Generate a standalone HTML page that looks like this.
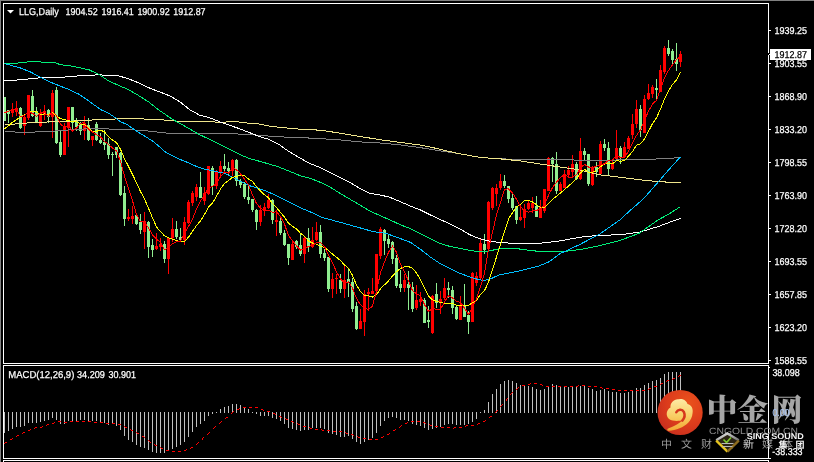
<!DOCTYPE html><html><head><meta charset="utf-8"><style>html,body{margin:0;padding:0;background:#000;}body{width:814px;height:462px;overflow:hidden;position:relative}svg{position:absolute;left:0;top:0;display:block}</style></head><body>
<svg width="814" height="462" viewBox="0 0 814 462" font-family="Liberation Sans, Arial, sans-serif" text-rendering="geometricPrecision">
<rect x="0" y="0" width="814" height="462" fill="#000"/>
<g shape-rendering="crispEdges">
<rect x="0" y="0" width="814" height="1" fill="#808080"/>
<rect x="0" y="0" width="1" height="462" fill="#808080"/>
</g>
<g shape-rendering="crispEdges">
<rect x="4" y="97" width="1" height="24" fill="#90EE90"/>
<rect x="3" y="97" width="3" height="24" fill="#90EE90"/>
<rect x="8" y="110" width="1" height="13" fill="#90EE90"/>
<rect x="7" y="110" width="3" height="4" fill="#90EE90"/>
<rect x="12" y="103" width="1" height="14" fill="#FF0000"/>
<rect x="11" y="109" width="3" height="4" fill="#FF0000"/>
<rect x="16" y="101" width="1" height="15" fill="#FF0000"/>
<rect x="15" y="108" width="3" height="4" fill="#FF0000"/>
<rect x="20" y="107" width="1" height="22" fill="#90EE90"/>
<rect x="19" y="108" width="3" height="20" fill="#90EE90"/>
<rect x="24" y="115" width="1" height="20" fill="#FF0000"/>
<rect x="23" y="117" width="3" height="9" fill="#FF0000"/>
<rect x="28" y="95" width="1" height="25" fill="#FF0000"/>
<rect x="27" y="95" width="3" height="23" fill="#FF0000"/>
<rect x="32" y="90" width="1" height="27" fill="#90EE90"/>
<rect x="31" y="96" width="3" height="20" fill="#90EE90"/>
<rect x="36" y="107" width="1" height="16" fill="#90EE90"/>
<rect x="35" y="111" width="3" height="12" fill="#90EE90"/>
<rect x="40" y="109" width="1" height="18" fill="#FF0000"/>
<rect x="39" y="113" width="3" height="13" fill="#FF0000"/>
<rect x="44" y="105" width="1" height="15" fill="#FF0000"/>
<rect x="43" y="111" width="3" height="4" fill="#FF0000"/>
<rect x="48" y="109" width="1" height="14" fill="#90EE90"/>
<rect x="47" y="110" width="3" height="7" fill="#90EE90"/>
<rect x="52" y="90" width="1" height="48" fill="#FF0000"/>
<rect x="51" y="93" width="3" height="24" fill="#FF0000"/>
<rect x="56" y="87" width="1" height="57" fill="#90EE90"/>
<rect x="55" y="90" width="3" height="53" fill="#90EE90"/>
<rect x="60" y="131" width="1" height="26" fill="#90EE90"/>
<rect x="59" y="142" width="3" height="13" fill="#90EE90"/>
<rect x="64" y="123" width="1" height="32" fill="#FF0000"/>
<rect x="63" y="126" width="3" height="29" fill="#FF0000"/>
<rect x="68" y="107" width="1" height="40" fill="#FF0000"/>
<rect x="67" y="107" width="3" height="21" fill="#FF0000"/>
<rect x="72" y="107" width="1" height="24" fill="#90EE90"/>
<rect x="71" y="107" width="3" height="16" fill="#90EE90"/>
<rect x="76" y="118" width="1" height="13" fill="#90EE90"/>
<rect x="75" y="120" width="3" height="7" fill="#90EE90"/>
<rect x="80" y="122" width="1" height="13" fill="#90EE90"/>
<rect x="79" y="125" width="3" height="6" fill="#90EE90"/>
<rect x="84" y="116" width="1" height="24" fill="#FF0000"/>
<rect x="83" y="123" width="3" height="8" fill="#FF0000"/>
<rect x="88" y="118" width="1" height="23" fill="#90EE90"/>
<rect x="87" y="125" width="3" height="15" fill="#90EE90"/>
<rect x="92" y="136" width="1" height="10" fill="#FF0000"/>
<rect x="91" y="136" width="3" height="4" fill="#FF0000"/>
<rect x="96" y="122" width="1" height="19" fill="#90EE90"/>
<rect x="95" y="124" width="3" height="16" fill="#90EE90"/>
<rect x="100" y="133" width="1" height="11" fill="#90EE90"/>
<rect x="99" y="140" width="3" height="3" fill="#90EE90"/>
<rect x="104" y="130" width="1" height="20" fill="#90EE90"/>
<rect x="103" y="142" width="3" height="3" fill="#90EE90"/>
<rect x="108" y="138" width="1" height="21" fill="#90EE90"/>
<rect x="107" y="144" width="3" height="11" fill="#90EE90"/>
<rect x="112" y="152" width="1" height="24" fill="#90EE90"/>
<rect x="111" y="154" width="3" height="1" fill="#90EE90"/>
<rect x="116" y="147" width="1" height="11" fill="#90EE90"/>
<rect x="115" y="147" width="3" height="8" fill="#90EE90"/>
<rect x="120" y="152" width="1" height="44" fill="#90EE90"/>
<rect x="119" y="153" width="3" height="42" fill="#90EE90"/>
<rect x="124" y="186" width="1" height="40" fill="#90EE90"/>
<rect x="123" y="193" width="3" height="26" fill="#90EE90"/>
<rect x="128" y="209" width="1" height="12" fill="#FF0000"/>
<rect x="127" y="217" width="3" height="2" fill="#FF0000"/>
<rect x="132" y="206" width="1" height="18" fill="#FF0000"/>
<rect x="131" y="216" width="3" height="3" fill="#FF0000"/>
<rect x="136" y="215" width="1" height="10" fill="#90EE90"/>
<rect x="135" y="215" width="3" height="9" fill="#90EE90"/>
<rect x="140" y="214" width="1" height="20" fill="#90EE90"/>
<rect x="139" y="222" width="3" height="8" fill="#90EE90"/>
<rect x="144" y="212" width="1" height="37" fill="#FF0000"/>
<rect x="143" y="221" width="3" height="11" fill="#FF0000"/>
<rect x="148" y="221" width="1" height="37" fill="#90EE90"/>
<rect x="147" y="222" width="3" height="25" fill="#90EE90"/>
<rect x="152" y="239" width="1" height="18" fill="#90EE90"/>
<rect x="151" y="245" width="3" height="5" fill="#90EE90"/>
<rect x="156" y="233" width="1" height="17" fill="#FF0000"/>
<rect x="155" y="246" width="3" height="3" fill="#FF0000"/>
<rect x="160" y="238" width="1" height="13" fill="#FF0000"/>
<rect x="159" y="244" width="3" height="3" fill="#FF0000"/>
<rect x="164" y="241" width="1" height="22" fill="#90EE90"/>
<rect x="163" y="244" width="3" height="15" fill="#90EE90"/>
<rect x="168" y="237" width="1" height="37" fill="#FF0000"/>
<rect x="167" y="238" width="3" height="21" fill="#FF0000"/>
<rect x="172" y="218" width="1" height="24" fill="#FF0000"/>
<rect x="171" y="229" width="3" height="9" fill="#FF0000"/>
<rect x="176" y="221" width="1" height="18" fill="#90EE90"/>
<rect x="175" y="229" width="3" height="8" fill="#90EE90"/>
<rect x="180" y="228" width="1" height="14" fill="#90EE90"/>
<rect x="179" y="237" width="3" height="3" fill="#90EE90"/>
<rect x="184" y="217" width="1" height="28" fill="#FF0000"/>
<rect x="183" y="222" width="3" height="18" fill="#FF0000"/>
<rect x="188" y="200" width="1" height="24" fill="#FF0000"/>
<rect x="187" y="202" width="3" height="21" fill="#FF0000"/>
<rect x="192" y="191" width="1" height="15" fill="#FF0000"/>
<rect x="191" y="193" width="3" height="10" fill="#FF0000"/>
<rect x="196" y="184" width="1" height="17" fill="#FF0000"/>
<rect x="195" y="187" width="3" height="10" fill="#FF0000"/>
<rect x="200" y="172" width="1" height="26" fill="#90EE90"/>
<rect x="199" y="187" width="3" height="11" fill="#90EE90"/>
<rect x="204" y="187" width="1" height="18" fill="#FF0000"/>
<rect x="203" y="193" width="3" height="8" fill="#FF0000"/>
<rect x="208" y="166" width="1" height="29" fill="#FF0000"/>
<rect x="207" y="166" width="3" height="28" fill="#FF0000"/>
<rect x="212" y="166" width="1" height="29" fill="#90EE90"/>
<rect x="211" y="168" width="3" height="18" fill="#90EE90"/>
<rect x="216" y="170" width="1" height="19" fill="#FF0000"/>
<rect x="215" y="171" width="3" height="15" fill="#FF0000"/>
<rect x="220" y="161" width="1" height="16" fill="#FF0000"/>
<rect x="219" y="166" width="3" height="7" fill="#FF0000"/>
<rect x="224" y="154" width="1" height="17" fill="#90EE90"/>
<rect x="223" y="166" width="3" height="3" fill="#90EE90"/>
<rect x="228" y="162" width="1" height="14" fill="#90EE90"/>
<rect x="227" y="168" width="3" height="3" fill="#90EE90"/>
<rect x="232" y="159" width="1" height="17" fill="#FF0000"/>
<rect x="231" y="160" width="3" height="11" fill="#FF0000"/>
<rect x="236" y="159" width="1" height="27" fill="#90EE90"/>
<rect x="235" y="160" width="3" height="21" fill="#90EE90"/>
<rect x="240" y="179" width="1" height="9" fill="#90EE90"/>
<rect x="239" y="181" width="3" height="4" fill="#90EE90"/>
<rect x="244" y="182" width="1" height="17" fill="#90EE90"/>
<rect x="243" y="184" width="3" height="13" fill="#90EE90"/>
<rect x="248" y="185" width="1" height="19" fill="#90EE90"/>
<rect x="247" y="197" width="3" height="3" fill="#90EE90"/>
<rect x="252" y="199" width="1" height="13" fill="#90EE90"/>
<rect x="251" y="199" width="3" height="11" fill="#90EE90"/>
<rect x="256" y="209" width="1" height="21" fill="#90EE90"/>
<rect x="255" y="210" width="3" height="12" fill="#90EE90"/>
<rect x="260" y="205" width="1" height="21" fill="#FF0000"/>
<rect x="259" y="210" width="3" height="12" fill="#FF0000"/>
<rect x="264" y="203" width="1" height="13" fill="#FF0000"/>
<rect x="263" y="207" width="3" height="4" fill="#FF0000"/>
<rect x="268" y="194" width="1" height="15" fill="#FF0000"/>
<rect x="267" y="200" width="3" height="8" fill="#FF0000"/>
<rect x="272" y="199" width="1" height="25" fill="#90EE90"/>
<rect x="271" y="200" width="3" height="20" fill="#90EE90"/>
<rect x="276" y="210" width="1" height="26" fill="#FF0000"/>
<rect x="275" y="220" width="3" height="2" fill="#FF0000"/>
<rect x="280" y="217" width="1" height="18" fill="#90EE90"/>
<rect x="279" y="221" width="3" height="12" fill="#90EE90"/>
<rect x="284" y="230" width="1" height="16" fill="#90EE90"/>
<rect x="283" y="233" width="3" height="12" fill="#90EE90"/>
<rect x="288" y="244" width="1" height="21" fill="#90EE90"/>
<rect x="287" y="244" width="3" height="14" fill="#90EE90"/>
<rect x="292" y="240" width="1" height="20" fill="#FF0000"/>
<rect x="291" y="244" width="3" height="16" fill="#FF0000"/>
<rect x="296" y="240" width="1" height="9" fill="#90EE90"/>
<rect x="295" y="241" width="3" height="6" fill="#90EE90"/>
<rect x="300" y="234" width="1" height="22" fill="#90EE90"/>
<rect x="299" y="245" width="3" height="9" fill="#90EE90"/>
<rect x="304" y="237" width="1" height="26" fill="#FF0000"/>
<rect x="303" y="238" width="3" height="16" fill="#FF0000"/>
<rect x="308" y="228" width="1" height="24" fill="#90EE90"/>
<rect x="307" y="238" width="3" height="9" fill="#90EE90"/>
<rect x="312" y="227" width="1" height="21" fill="#FF0000"/>
<rect x="311" y="240" width="3" height="7" fill="#FF0000"/>
<rect x="316" y="222" width="1" height="19" fill="#FF0000"/>
<rect x="315" y="232" width="3" height="8" fill="#FF0000"/>
<rect x="320" y="225" width="1" height="33" fill="#90EE90"/>
<rect x="319" y="232" width="3" height="22" fill="#90EE90"/>
<rect x="324" y="249" width="1" height="12" fill="#90EE90"/>
<rect x="323" y="253" width="3" height="5" fill="#90EE90"/>
<rect x="328" y="257" width="1" height="35" fill="#90EE90"/>
<rect x="327" y="257" width="3" height="32" fill="#90EE90"/>
<rect x="332" y="273" width="1" height="25" fill="#FF0000"/>
<rect x="331" y="279" width="3" height="10" fill="#FF0000"/>
<rect x="336" y="274" width="1" height="20" fill="#FF0000"/>
<rect x="335" y="278" width="3" height="1" fill="#FF0000"/>
<rect x="340" y="274" width="1" height="19" fill="#90EE90"/>
<rect x="339" y="280" width="3" height="9" fill="#90EE90"/>
<rect x="344" y="266" width="1" height="32" fill="#FF0000"/>
<rect x="343" y="280" width="3" height="9" fill="#FF0000"/>
<rect x="348" y="269" width="1" height="28" fill="#90EE90"/>
<rect x="347" y="279" width="3" height="3" fill="#90EE90"/>
<rect x="352" y="278" width="1" height="34" fill="#90EE90"/>
<rect x="351" y="282" width="3" height="27" fill="#90EE90"/>
<rect x="356" y="302" width="1" height="28" fill="#90EE90"/>
<rect x="355" y="306" width="3" height="23" fill="#90EE90"/>
<rect x="360" y="309" width="1" height="20" fill="#FF0000"/>
<rect x="359" y="321" width="3" height="8" fill="#FF0000"/>
<rect x="364" y="290" width="1" height="46" fill="#FF0000"/>
<rect x="363" y="294" width="3" height="28" fill="#FF0000"/>
<rect x="368" y="288" width="1" height="23" fill="#FF0000"/>
<rect x="367" y="292" width="3" height="2" fill="#FF0000"/>
<rect x="372" y="278" width="1" height="16" fill="#FF0000"/>
<rect x="371" y="291" width="3" height="3" fill="#FF0000"/>
<rect x="376" y="254" width="1" height="41" fill="#FF0000"/>
<rect x="375" y="254" width="3" height="37" fill="#FF0000"/>
<rect x="380" y="227" width="1" height="32" fill="#FF0000"/>
<rect x="379" y="229" width="3" height="27" fill="#FF0000"/>
<rect x="384" y="229" width="1" height="26" fill="#90EE90"/>
<rect x="383" y="230" width="3" height="11" fill="#90EE90"/>
<rect x="388" y="235" width="1" height="13" fill="#90EE90"/>
<rect x="387" y="239" width="3" height="5" fill="#90EE90"/>
<rect x="392" y="241" width="1" height="23" fill="#90EE90"/>
<rect x="391" y="242" width="3" height="17" fill="#90EE90"/>
<rect x="396" y="255" width="1" height="33" fill="#90EE90"/>
<rect x="395" y="258" width="3" height="28" fill="#90EE90"/>
<rect x="400" y="270" width="1" height="22" fill="#90EE90"/>
<rect x="399" y="284" width="3" height="4" fill="#90EE90"/>
<rect x="404" y="274" width="1" height="18" fill="#FF0000"/>
<rect x="403" y="280" width="3" height="8" fill="#FF0000"/>
<rect x="408" y="271" width="1" height="39" fill="#90EE90"/>
<rect x="407" y="284" width="3" height="4" fill="#90EE90"/>
<rect x="412" y="282" width="1" height="30" fill="#90EE90"/>
<rect x="411" y="287" width="3" height="22" fill="#90EE90"/>
<rect x="416" y="285" width="1" height="25" fill="#FF0000"/>
<rect x="415" y="300" width="3" height="8" fill="#FF0000"/>
<rect x="420" y="292" width="1" height="14" fill="#FF0000"/>
<rect x="419" y="299" width="3" height="3" fill="#FF0000"/>
<rect x="424" y="298" width="1" height="25" fill="#90EE90"/>
<rect x="423" y="300" width="3" height="23" fill="#90EE90"/>
<rect x="428" y="306" width="1" height="22" fill="#90EE90"/>
<rect x="427" y="320" width="3" height="2" fill="#90EE90"/>
<rect x="432" y="295" width="1" height="39" fill="#FF0000"/>
<rect x="431" y="296" width="3" height="37" fill="#FF0000"/>
<rect x="436" y="283" width="1" height="25" fill="#90EE90"/>
<rect x="435" y="294" width="3" height="9" fill="#90EE90"/>
<rect x="440" y="291" width="1" height="23" fill="#FF0000"/>
<rect x="439" y="299" width="3" height="4" fill="#FF0000"/>
<rect x="444" y="278" width="1" height="22" fill="#FF0000"/>
<rect x="443" y="288" width="3" height="10" fill="#FF0000"/>
<rect x="448" y="282" width="1" height="16" fill="#90EE90"/>
<rect x="447" y="288" width="3" height="2" fill="#90EE90"/>
<rect x="452" y="286" width="1" height="28" fill="#90EE90"/>
<rect x="451" y="290" width="3" height="18" fill="#90EE90"/>
<rect x="456" y="306" width="1" height="14" fill="#90EE90"/>
<rect x="455" y="307" width="3" height="12" fill="#90EE90"/>
<rect x="460" y="296" width="1" height="24" fill="#FF0000"/>
<rect x="459" y="305" width="3" height="15" fill="#FF0000"/>
<rect x="464" y="284" width="1" height="33" fill="#90EE90"/>
<rect x="463" y="305" width="3" height="12" fill="#90EE90"/>
<rect x="468" y="311" width="1" height="23" fill="#90EE90"/>
<rect x="467" y="315" width="3" height="7" fill="#90EE90"/>
<rect x="472" y="272" width="1" height="50" fill="#FF0000"/>
<rect x="471" y="273" width="3" height="49" fill="#FF0000"/>
<rect x="476" y="272" width="1" height="14" fill="#FF0000"/>
<rect x="475" y="276" width="3" height="7" fill="#FF0000"/>
<rect x="480" y="239" width="1" height="41" fill="#FF0000"/>
<rect x="479" y="243" width="3" height="35" fill="#FF0000"/>
<rect x="484" y="234" width="1" height="20" fill="#90EE90"/>
<rect x="483" y="244" width="3" height="6" fill="#90EE90"/>
<rect x="488" y="201" width="1" height="48" fill="#FF0000"/>
<rect x="487" y="202" width="3" height="47" fill="#FF0000"/>
<rect x="492" y="187" width="1" height="23" fill="#FF0000"/>
<rect x="491" y="188" width="3" height="20" fill="#FF0000"/>
<rect x="496" y="184" width="1" height="22" fill="#FF0000"/>
<rect x="495" y="188" width="3" height="6" fill="#FF0000"/>
<rect x="500" y="174" width="1" height="16" fill="#FF0000"/>
<rect x="499" y="181" width="3" height="7" fill="#FF0000"/>
<rect x="504" y="175" width="1" height="13" fill="#90EE90"/>
<rect x="503" y="181" width="3" height="5" fill="#90EE90"/>
<rect x="508" y="186" width="1" height="17" fill="#90EE90"/>
<rect x="507" y="186" width="3" height="13" fill="#90EE90"/>
<rect x="512" y="193" width="1" height="17" fill="#90EE90"/>
<rect x="511" y="198" width="3" height="10" fill="#90EE90"/>
<rect x="516" y="206" width="1" height="18" fill="#90EE90"/>
<rect x="515" y="206" width="3" height="14" fill="#90EE90"/>
<rect x="520" y="204" width="1" height="17" fill="#FF0000"/>
<rect x="519" y="217" width="3" height="3" fill="#FF0000"/>
<rect x="524" y="204" width="1" height="24" fill="#FF0000"/>
<rect x="523" y="209" width="3" height="9" fill="#FF0000"/>
<rect x="528" y="200" width="1" height="10" fill="#FF0000"/>
<rect x="527" y="203" width="3" height="6" fill="#FF0000"/>
<rect x="532" y="197" width="1" height="16" fill="#FF0000"/>
<rect x="531" y="203" width="3" height="5" fill="#FF0000"/>
<rect x="536" y="196" width="1" height="21" fill="#90EE90"/>
<rect x="535" y="206" width="3" height="11" fill="#90EE90"/>
<rect x="540" y="200" width="1" height="18" fill="#FF0000"/>
<rect x="539" y="207" width="3" height="11" fill="#FF0000"/>
<rect x="544" y="189" width="1" height="24" fill="#FF0000"/>
<rect x="543" y="189" width="3" height="22" fill="#FF0000"/>
<rect x="548" y="157" width="1" height="34" fill="#FF0000"/>
<rect x="547" y="158" width="3" height="33" fill="#FF0000"/>
<rect x="552" y="157" width="1" height="25" fill="#90EE90"/>
<rect x="551" y="158" width="3" height="6" fill="#90EE90"/>
<rect x="556" y="152" width="1" height="42" fill="#90EE90"/>
<rect x="555" y="164" width="3" height="27" fill="#90EE90"/>
<rect x="560" y="182" width="1" height="9" fill="#FF0000"/>
<rect x="559" y="184" width="3" height="7" fill="#FF0000"/>
<rect x="564" y="170" width="1" height="18" fill="#FF0000"/>
<rect x="563" y="174" width="3" height="14" fill="#FF0000"/>
<rect x="568" y="166" width="1" height="12" fill="#FF0000"/>
<rect x="567" y="170" width="3" height="5" fill="#FF0000"/>
<rect x="572" y="155" width="1" height="21" fill="#FF0000"/>
<rect x="571" y="164" width="3" height="8" fill="#FF0000"/>
<rect x="576" y="162" width="1" height="18" fill="#90EE90"/>
<rect x="575" y="164" width="3" height="15" fill="#90EE90"/>
<rect x="580" y="138" width="1" height="42" fill="#FF0000"/>
<rect x="579" y="151" width="3" height="28" fill="#FF0000"/>
<rect x="584" y="148" width="1" height="12" fill="#90EE90"/>
<rect x="583" y="151" width="3" height="4" fill="#90EE90"/>
<rect x="588" y="154" width="1" height="32" fill="#90EE90"/>
<rect x="587" y="154" width="3" height="30" fill="#90EE90"/>
<rect x="592" y="166" width="1" height="20" fill="#FF0000"/>
<rect x="591" y="167" width="3" height="18" fill="#FF0000"/>
<rect x="596" y="162" width="1" height="15" fill="#90EE90"/>
<rect x="595" y="167" width="3" height="5" fill="#90EE90"/>
<rect x="600" y="141" width="1" height="33" fill="#FF0000"/>
<rect x="599" y="144" width="3" height="30" fill="#FF0000"/>
<rect x="604" y="139" width="1" height="12" fill="#90EE90"/>
<rect x="603" y="144" width="3" height="4" fill="#90EE90"/>
<rect x="608" y="142" width="1" height="33" fill="#90EE90"/>
<rect x="607" y="148" width="3" height="21" fill="#90EE90"/>
<rect x="612" y="161" width="1" height="9" fill="#FF0000"/>
<rect x="611" y="164" width="3" height="5" fill="#FF0000"/>
<rect x="616" y="130" width="1" height="30" fill="#FF0000"/>
<rect x="615" y="148" width="3" height="11" fill="#FF0000"/>
<rect x="620" y="146" width="1" height="18" fill="#90EE90"/>
<rect x="619" y="148" width="3" height="9" fill="#90EE90"/>
<rect x="624" y="142" width="1" height="16" fill="#FF0000"/>
<rect x="623" y="147" width="3" height="10" fill="#FF0000"/>
<rect x="628" y="136" width="1" height="13" fill="#FF0000"/>
<rect x="627" y="138" width="3" height="11" fill="#FF0000"/>
<rect x="632" y="114" width="1" height="25" fill="#FF0000"/>
<rect x="631" y="124" width="3" height="11" fill="#FF0000"/>
<rect x="636" y="100" width="1" height="28" fill="#FF0000"/>
<rect x="635" y="109" width="3" height="15" fill="#FF0000"/>
<rect x="640" y="105" width="1" height="32" fill="#90EE90"/>
<rect x="639" y="109" width="3" height="21" fill="#90EE90"/>
<rect x="644" y="95" width="1" height="38" fill="#FF0000"/>
<rect x="643" y="99" width="3" height="34" fill="#FF0000"/>
<rect x="648" y="84" width="1" height="16" fill="#FF0000"/>
<rect x="647" y="93" width="3" height="6" fill="#FF0000"/>
<rect x="652" y="85" width="1" height="13" fill="#FF0000"/>
<rect x="651" y="87" width="3" height="7" fill="#FF0000"/>
<rect x="656" y="79" width="1" height="20" fill="#90EE90"/>
<rect x="655" y="88" width="3" height="2" fill="#90EE90"/>
<rect x="660" y="65" width="1" height="27" fill="#FF0000"/>
<rect x="659" y="70" width="3" height="22" fill="#FF0000"/>
<rect x="664" y="46" width="1" height="28" fill="#FF0000"/>
<rect x="663" y="48" width="3" height="24" fill="#FF0000"/>
<rect x="668" y="40" width="1" height="16" fill="#90EE90"/>
<rect x="667" y="48" width="3" height="6" fill="#90EE90"/>
<rect x="672" y="49" width="1" height="15" fill="#90EE90"/>
<rect x="671" y="51" width="3" height="9" fill="#90EE90"/>
<rect x="676" y="43" width="1" height="28" fill="#90EE90"/>
<rect x="675" y="59" width="3" height="5" fill="#90EE90"/>
<rect x="680" y="51" width="1" height="16" fill="#FF0000"/>
<rect x="679" y="54" width="3" height="8" fill="#FF0000"/>
</g>
<polyline points="4.5,131.6 14.5,131.6 15.5,132.7 34.5,132.7 35.5,131.6 50.5,131.3 59.5,130.7 79.5,129.1 99.5,128.7 120.5,129.4 133.5,129.9 146.5,130.8 159.5,132.3 172.5,133.7 185.5,133.8 229.3,133.7 249.0,134.4 268.7,136.1 288.4,137.3 300.5,137.6 320.2,138.6 339.9,139.9 359.6,141.9 379.3,142.9 399.0,144.8 418.7,147.4 438.4,150.6 460.2,153.8 479.9,157.4 499.5,158.8 519.3,159.4 539.0,159.7 558.7,159.7 578.5,160.1 595.7,160.6 619.3,159.9 639.0,159.6 658.7,158.9 680.5,157.6" fill="none" stroke="#808080" stroke-width="1" shape-rendering="crispEdges"/>
<polyline points="4.5,124.7 14.5,124.7 15.5,123.7 26.5,123.7 27.5,122.8 46.5,122.8 47.5,121.7 59.5,121.5 79.5,120.8 99.5,119.5 114.5,119.5 115.5,118.7 143.5,118.7 144.5,119.7 163.5,119.7 164.5,120.3 175.5,120.3 176.5,121.5 211.5,121.5 219.5,122.7 229.3,121.7 239.2,122.0 249.0,123.2 258.9,124.0 268.7,126.0 278.6,127.2 288.4,128.2 300.5,129.2 320.2,130.2 339.9,133.1 359.6,136.4 379.3,139.6 399.0,142.3 418.7,144.8 438.4,148.8 448.3,151.3 460.2,153.8 479.9,157.4 499.5,158.8 519.3,160.8 539.0,163.8 558.7,166.8 578.5,169.7 598.1,174.6 619.3,177.2 639.0,179.7 658.7,181.7 680.5,182.7" fill="none" stroke="#F0E68C" stroke-width="1" shape-rendering="crispEdges"/>
<polyline points="4.5,80.8 20.5,79.8 39.5,77.8 59.5,77.5 79.5,75.8 99.5,74.8 108.5,75.5 118.5,75.8 128.5,78.8 138.5,82.8 150.5,88.5 160.5,92.2 170.5,96.2 180.1,102.0 189.9,109.8 199.8,115.3 209.6,117.7 219.5,121.7 229.3,125.2 239.2,128.6 249.0,132.4 258.9,136.4 268.7,139.3 278.6,144.2 288.4,151.2 298.3,157.1 308.1,162.7 320.2,167.6 330.1,172.4 339.9,177.3 349.8,182.3 359.6,188.2 369.5,193.2 379.3,194.8 389.2,197.1 399.0,201.1 410.4,206.1 420.2,209.9 430.1,214.8 439.9,219.4 449.8,223.8 459.6,228.7 469.5,234.6 479.3,238.6 489.2,241.1 499.0,242.4 508.9,243.1 518.7,243.8 528.6,243.8 538.4,243.4 548.3,242.4 560.5,240.8 579.9,237.2 599.6,235.3 619.3,234.8 639.0,232.3 658.7,226.4 668.5,222.7 680.5,218.4" fill="none" stroke="#FFFFFF" stroke-width="1" shape-rendering="crispEdges"/>
<polyline points="4.5,63.6 20.5,62.9 30.5,61.6 40.5,62.0 54.5,62.6 60.5,64.7 69.5,65.7 79.5,67.7 89.5,70.0 99.5,74.8 108.5,80.8 118.5,85.3 128.5,89.7 138.5,95.5 148.5,101.8 158.5,109.8 172.5,119.3 185.5,126.5 198.5,134.2 211.5,140.2 220.5,144.7 229.3,149.2 239.2,154.2 249.8,158.8 258.9,161.1 268.7,163.9 278.6,166.9 288.4,170.8 300.5,175.8 310.4,178.3 320.2,182.3 330.1,187.2 339.9,193.2 349.8,199.1 359.6,204.9 369.5,210.8 380.5,215.8 390.5,220.2 400.5,224.8 410.4,228.7 420.2,233.6 430.1,238.6 439.9,243.4 449.8,246.4 459.6,248.3 469.5,250.3 479.3,251.8 489.2,250.9 499.0,248.9 508.9,248.3 518.7,248.9 528.6,250.3 538.4,251.3 548.3,251.8 560.5,251.8 579.9,249.6 599.6,245.6 619.3,240.7 639.0,233.3 658.7,219.6 668.5,214.2 680.5,206.6" fill="none" stroke="#00F07A" stroke-width="1" shape-rendering="crispEdges"/>
<polyline points="4.5,63.6 20.5,68.0 30.5,72.0 39.5,76.8 49.5,81.8 59.5,85.8 69.5,89.7 79.5,94.5 89.5,101.5 100.5,109.5 108.5,113.2 115.5,117.8 120.5,121.7 127.0,124.5 133.5,129.1 140.0,133.3 146.5,137.2 153.0,141.4 159.5,146.7 165.5,152.1 172.5,155.8 178.9,158.9 185.5,161.6 191.5,164.2 198.5,167.3 205.0,169.3 212.8,170.8 225.2,173.6 237.5,179.8 249.8,185.8 262.2,189.6 274.5,194.6 289.2,202.3 300.5,207.9 311.5,212.4 321.2,217.2 336.1,221.2 348.5,224.6 360.8,228.1 373.1,231.6 385.5,233.2 400.5,238.6 410.5,242.4 420.5,249.3 430.5,257.2 439.5,263.1 449.5,268.1 459.5,273.1 469.5,276.9 479.5,279.9 484.5,280.4 489.5,279.4 499.0,274.9 508.5,273.1 518.5,271.1 528.5,268.6 538.5,266.1 548.5,262.1 560.5,253.4 579.5,244.6 599.5,234.2 619.5,220.2 631.5,209.2 643.0,199.3 658.5,181.7 670.5,167.8 680.5,156.9" fill="none" stroke="#00BFFF" stroke-width="1" shape-rendering="crispEdges"/>
<polyline points="4.5,128.8 8.5,125.8 12.5,122.3 16.5,119.7 20.5,117.1 24.5,115.0 28.5,112.4 32.5,111.1 36.5,111.9 40.5,114.8 44.5,113.9 48.5,114.2 52.5,112.5 56.5,116.0 60.5,118.7 64.5,119.6 68.5,120.8 72.5,121.5 76.5,121.9 80.5,123.8 84.5,124.9 88.5,127.2 92.5,131.6 96.5,131.3 100.5,130.1 104.5,132.0 108.5,136.8 112.5,140.0 116.5,142.8 120.5,149.2 124.5,158.8 128.5,166.4 132.5,174.4 136.5,182.7 140.5,191.5 144.5,199.1 148.5,208.3 152.5,217.8 156.5,226.9 160.5,231.7 164.5,235.8 168.5,237.9 172.5,239.2 176.5,240.6 180.5,241.5 184.5,241.6 188.5,237.1 192.5,231.4 196.5,225.5 200.5,221.0 204.5,214.4 208.5,207.2 212.5,202.9 216.5,196.3 220.5,188.9 224.5,183.6 228.5,180.6 232.5,177.2 236.5,176.6 240.5,175.2 244.5,175.7 248.5,179.0 252.5,181.5 256.5,186.6 260.5,191.0 264.5,194.8 268.5,197.7 272.5,203.7 276.5,207.6 280.5,212.5 284.5,217.2 288.5,223.1 292.5,226.4 296.5,228.9 300.5,233.3 304.5,236.3 308.5,241.1 312.5,243.0 316.5,244.2 320.5,246.3 324.5,247.6 328.5,250.6 332.5,254.1 336.5,257.2 340.5,260.7 344.5,264.9 348.5,268.4 352.5,275.4 356.5,285.1 360.5,291.8 364.5,295.5 368.5,295.8 372.5,297.1 376.5,294.7 380.5,288.7 384.5,284.8 388.5,280.9 392.5,275.9 396.5,271.7 400.5,268.4 404.5,266.9 408.5,266.5 412.5,268.3 416.5,272.9 420.5,279.9 424.5,288.2 428.5,296.1 432.5,299.8 436.5,301.4 440.5,302.5 444.5,303.3 448.5,303.5 452.5,303.4 456.5,305.2 460.5,305.8 464.5,305.1 468.5,305.1 472.5,302.8 476.5,300.1 480.5,294.6 484.5,290.7 488.5,282.0 492.5,269.9 496.5,256.9 500.5,244.5 504.5,231.4 508.5,219.1 512.5,212.6 516.5,207.0 520.5,204.4 524.5,200.3 528.5,200.4 532.5,202.0 536.5,204.8 540.5,207.4 544.5,207.8 548.5,203.7 552.5,199.3 556.5,196.3 560.5,193.0 564.5,189.5 568.5,186.2 572.5,182.3 576.5,178.5 580.5,172.9 584.5,169.4 588.5,172.1 592.5,172.4 596.5,170.5 600.5,166.6 604.5,164.0 608.5,163.8 612.5,163.8 616.5,160.7 620.5,161.3 624.5,160.6 628.5,156.0 632.5,151.6 636.5,145.2 640.5,143.8 644.5,138.9 648.5,131.3 652.5,123.6 656.5,117.8 660.5,109.2 664.5,99.2 668.5,90.8 672.5,84.4 676.5,80.0 680.5,72.4" fill="none" stroke="#FFFF00" stroke-width="1" shape-rendering="crispEdges"/>
<polyline points="4.5,112.8 8.5,111.2 12.5,109.8 16.5,109.3 20.5,116.5 24.5,115.7 28.5,111.9 32.5,113.4 36.5,116.2 40.5,113.2 44.5,112.1 48.5,116.4 52.5,111.7 56.5,115.8 60.5,124.2 64.5,127.2 68.5,125.2 72.5,131.3 76.5,128.0 80.5,123.3 84.5,122.6 88.5,129.3 92.5,131.9 96.5,134.6 100.5,136.9 104.5,141.4 108.5,144.3 112.5,148.1 116.5,150.9 120.5,161.5 124.5,176.2 128.5,188.6 132.5,200.7 136.5,214.5 140.5,221.5 144.5,222.0 148.5,228.0 152.5,234.8 156.5,239.3 160.5,241.9 164.5,249.6 168.5,247.8 172.5,243.6 176.5,241.8 180.5,241.1 184.5,233.7 188.5,226.4 192.5,219.2 196.5,209.2 200.5,201.0 204.5,195.1 208.5,188.0 212.5,186.6 216.5,183.4 220.5,176.8 224.5,172.0 228.5,173.1 232.5,167.8 236.5,169.8 240.5,173.7 244.5,179.3 248.5,185.0 252.5,195.2 256.5,203.4 260.5,208.4 264.5,210.4 268.5,210.4 272.5,212.3 276.5,211.8 280.5,216.6 284.5,224.1 288.5,235.7 292.5,240.5 296.5,245.9 300.5,250.0 304.5,248.6 308.5,246.4 312.5,245.6 316.5,242.5 320.5,242.5 324.5,246.5 328.5,254.8 332.5,262.7 336.5,271.8 340.5,278.9 344.5,283.4 348.5,282.0 352.5,288.1 356.5,298.4 360.5,304.8 364.5,307.6 368.5,309.6 372.5,306.0 376.5,291.0 380.5,272.7 384.5,262.0 388.5,252.3 392.5,245.9 396.5,252.3 400.5,264.1 404.5,271.9 408.5,280.7 412.5,290.8 416.5,293.6 420.5,295.8 424.5,304.5 428.5,311.4 432.5,308.7 436.5,309.2 440.5,309.2 444.5,302.1 448.5,295.6 452.5,298.0 456.5,301.2 460.5,302.4 464.5,308.2 468.5,314.5 472.5,307.6 476.5,299.0 480.5,286.7 484.5,273.3 488.5,249.4 492.5,232.3 496.5,214.8 500.5,202.3 504.5,189.5 508.5,188.8 512.5,192.9 516.5,199.2 520.5,206.5 524.5,211.2 528.5,212.1 532.5,211.0 536.5,210.5 540.5,208.4 544.5,204.4 548.5,195.3 552.5,187.5 556.5,182.2 560.5,177.6 564.5,174.5 568.5,177.0 572.5,177.0 576.5,174.7 580.5,168.1 584.5,164.3 588.5,167.1 592.5,167.7 596.5,166.3 600.5,165.0 604.5,163.7 608.5,160.6 612.5,160.0 616.5,155.1 620.5,157.7 624.5,157.5 628.5,151.3 632.5,143.2 636.5,135.4 640.5,129.9 644.5,120.2 648.5,111.2 652.5,104.0 656.5,100.3 660.5,88.4 664.5,78.2 668.5,70.4 672.5,64.9 676.5,59.6 680.5,56.4" fill="none" stroke="#FF0000" stroke-width="1" shape-rendering="crispEdges"/>
<g shape-rendering="crispEdges" fill="#C0C0C0">
<rect x="4" y="412" width="1" height="21"/>
<rect x="8" y="412" width="1" height="19"/>
<rect x="12" y="412" width="1" height="17"/>
<rect x="16" y="412" width="1" height="15"/>
<rect x="20" y="412" width="1" height="15"/>
<rect x="24" y="412" width="1" height="14"/>
<rect x="28" y="412" width="1" height="11"/>
<rect x="32" y="412" width="1" height="11"/>
<rect x="36" y="412" width="1" height="11"/>
<rect x="40" y="412" width="1" height="10"/>
<rect x="44" y="412" width="1" height="9"/>
<rect x="48" y="412" width="1" height="8"/>
<rect x="52" y="412" width="1" height="6"/>
<rect x="56" y="412" width="1" height="8"/>
<rect x="60" y="412" width="1" height="12"/>
<rect x="64" y="412" width="1" height="12"/>
<rect x="68" y="412" width="1" height="9"/>
<rect x="72" y="412" width="1" height="9"/>
<rect x="76" y="412" width="1" height="9"/>
<rect x="80" y="412" width="1" height="8"/>
<rect x="84" y="412" width="1" height="8"/>
<rect x="88" y="412" width="1" height="9"/>
<rect x="92" y="412" width="1" height="9"/>
<rect x="96" y="412" width="1" height="9"/>
<rect x="100" y="412" width="1" height="10"/>
<rect x="104" y="412" width="1" height="11"/>
<rect x="108" y="412" width="1" height="13"/>
<rect x="112" y="412" width="1" height="12"/>
<rect x="116" y="412" width="1" height="14"/>
<rect x="120" y="412" width="1" height="18"/>
<rect x="124" y="412" width="1" height="24"/>
<rect x="128" y="412" width="1" height="28"/>
<rect x="132" y="412" width="1" height="30"/>
<rect x="136" y="412" width="1" height="33"/>
<rect x="140" y="412" width="1" height="35"/>
<rect x="144" y="412" width="1" height="36"/>
<rect x="148" y="412" width="1" height="38"/>
<rect x="152" y="412" width="1" height="40"/>
<rect x="156" y="412" width="1" height="41"/>
<rect x="160" y="412" width="1" height="41"/>
<rect x="164" y="412" width="1" height="41"/>
<rect x="168" y="412" width="1" height="39"/>
<rect x="172" y="412" width="1" height="37"/>
<rect x="176" y="412" width="1" height="35"/>
<rect x="180" y="412" width="1" height="33"/>
<rect x="184" y="412" width="1" height="30"/>
<rect x="188" y="412" width="1" height="25"/>
<rect x="192" y="412" width="1" height="20"/>
<rect x="196" y="412" width="1" height="15"/>
<rect x="200" y="412" width="1" height="12"/>
<rect x="204" y="412" width="1" height="9"/>
<rect x="208" y="412" width="1" height="4"/>
<rect x="212" y="412" width="1" height="2"/>
<rect x="216" y="412" width="1" height="1"/>
<rect x="220" y="409" width="1" height="4"/>
<rect x="224" y="407" width="1" height="6"/>
<rect x="228" y="406" width="1" height="7"/>
<rect x="232" y="404" width="1" height="9"/>
<rect x="236" y="404" width="1" height="9"/>
<rect x="240" y="405" width="1" height="8"/>
<rect x="244" y="407" width="1" height="6"/>
<rect x="248" y="409" width="1" height="4"/>
<rect x="252" y="412" width="1" height="1"/>
<rect x="256" y="412" width="1" height="2"/>
<rect x="260" y="412" width="1" height="4"/>
<rect x="264" y="412" width="1" height="4"/>
<rect x="268" y="412" width="1" height="4"/>
<rect x="272" y="412" width="1" height="6"/>
<rect x="276" y="412" width="1" height="7"/>
<rect x="280" y="412" width="1" height="9"/>
<rect x="284" y="412" width="1" height="12"/>
<rect x="288" y="412" width="1" height="16"/>
<rect x="292" y="412" width="1" height="17"/>
<rect x="296" y="412" width="1" height="18"/>
<rect x="300" y="412" width="1" height="19"/>
<rect x="304" y="412" width="1" height="18"/>
<rect x="308" y="412" width="1" height="18"/>
<rect x="312" y="412" width="1" height="16"/>
<rect x="316" y="412" width="1" height="16"/>
<rect x="320" y="412" width="1" height="16"/>
<rect x="324" y="412" width="1" height="17"/>
<rect x="328" y="412" width="1" height="21"/>
<rect x="332" y="412" width="1" height="22"/>
<rect x="336" y="412" width="1" height="23"/>
<rect x="340" y="412" width="1" height="25"/>
<rect x="344" y="412" width="1" height="25"/>
<rect x="348" y="412" width="1" height="24"/>
<rect x="352" y="412" width="1" height="27"/>
<rect x="356" y="412" width="1" height="30"/>
<rect x="360" y="412" width="1" height="32"/>
<rect x="364" y="412" width="1" height="30"/>
<rect x="368" y="412" width="1" height="28"/>
<rect x="372" y="412" width="1" height="26"/>
<rect x="376" y="412" width="1" height="21"/>
<rect x="380" y="412" width="1" height="14"/>
<rect x="384" y="412" width="1" height="9"/>
<rect x="388" y="412" width="1" height="6"/>
<rect x="392" y="412" width="1" height="5"/>
<rect x="396" y="412" width="1" height="6"/>
<rect x="400" y="412" width="1" height="8"/>
<rect x="404" y="412" width="1" height="8"/>
<rect x="408" y="412" width="1" height="9"/>
<rect x="412" y="412" width="1" height="12"/>
<rect x="416" y="412" width="1" height="13"/>
<rect x="420" y="412" width="1" height="14"/>
<rect x="424" y="412" width="1" height="16"/>
<rect x="428" y="412" width="1" height="18"/>
<rect x="432" y="412" width="1" height="17"/>
<rect x="436" y="412" width="1" height="16"/>
<rect x="440" y="412" width="1" height="15"/>
<rect x="444" y="412" width="1" height="13"/>
<rect x="448" y="412" width="1" height="12"/>
<rect x="452" y="412" width="1" height="12"/>
<rect x="456" y="412" width="1" height="13"/>
<rect x="460" y="412" width="1" height="13"/>
<rect x="464" y="412" width="1" height="13"/>
<rect x="468" y="412" width="1" height="12"/>
<rect x="472" y="412" width="1" height="10"/>
<rect x="476" y="412" width="1" height="7"/>
<rect x="480" y="412" width="1" height="1"/>
<rect x="484" y="410" width="1" height="3"/>
<rect x="488" y="402" width="1" height="11"/>
<rect x="492" y="394" width="1" height="19"/>
<rect x="496" y="389" width="1" height="24"/>
<rect x="500" y="384" width="1" height="29"/>
<rect x="504" y="381" width="1" height="32"/>
<rect x="508" y="380" width="1" height="33"/>
<rect x="512" y="381" width="1" height="32"/>
<rect x="516" y="383" width="1" height="30"/>
<rect x="520" y="385" width="1" height="28"/>
<rect x="524" y="386" width="1" height="27"/>
<rect x="528" y="386" width="1" height="27"/>
<rect x="532" y="387" width="1" height="26"/>
<rect x="536" y="389" width="1" height="24"/>
<rect x="540" y="390" width="1" height="23"/>
<rect x="544" y="389" width="1" height="24"/>
<rect x="548" y="386" width="1" height="27"/>
<rect x="552" y="384" width="1" height="29"/>
<rect x="556" y="385" width="1" height="28"/>
<rect x="560" y="386" width="1" height="27"/>
<rect x="564" y="387" width="1" height="26"/>
<rect x="568" y="387" width="1" height="26"/>
<rect x="572" y="386" width="1" height="27"/>
<rect x="576" y="387" width="1" height="26"/>
<rect x="580" y="386" width="1" height="27"/>
<rect x="584" y="386" width="1" height="27"/>
<rect x="588" y="388" width="1" height="25"/>
<rect x="592" y="389" width="1" height="24"/>
<rect x="596" y="391" width="1" height="22"/>
<rect x="600" y="390" width="1" height="23"/>
<rect x="604" y="389" width="1" height="24"/>
<rect x="608" y="391" width="1" height="22"/>
<rect x="612" y="392" width="1" height="21"/>
<rect x="616" y="392" width="1" height="21"/>
<rect x="620" y="393" width="1" height="20"/>
<rect x="624" y="393" width="1" height="20"/>
<rect x="628" y="392" width="1" height="21"/>
<rect x="632" y="391" width="1" height="22"/>
<rect x="636" y="388" width="1" height="25"/>
<rect x="640" y="388" width="1" height="25"/>
<rect x="644" y="385" width="1" height="28"/>
<rect x="648" y="383" width="1" height="30"/>
<rect x="652" y="381" width="1" height="32"/>
<rect x="656" y="380" width="1" height="33"/>
<rect x="660" y="378" width="1" height="35"/>
<rect x="664" y="374" width="1" height="39"/>
<rect x="668" y="372" width="1" height="41"/>
<rect x="672" y="372" width="1" height="41"/>
<rect x="676" y="372" width="1" height="41"/>
<rect x="680" y="372" width="1" height="41"/>
</g>
<g fill="#FF0000" shape-rendering="crispEdges">
<rect x="4" y="443" width="1" height="1"/>
<rect x="5" y="442" width="1" height="1"/>
<rect x="6" y="442" width="1" height="1"/>
<rect x="10" y="439" width="1" height="1"/>
<rect x="11" y="439" width="1" height="1"/>
<rect x="12" y="438" width="1" height="1"/>
<rect x="16" y="436" width="1" height="1"/>
<rect x="17" y="435" width="1" height="1"/>
<rect x="18" y="435" width="1" height="1"/>
<rect x="22" y="433" width="1" height="1"/>
<rect x="23" y="432" width="1" height="1"/>
<rect x="24" y="432" width="1" height="1"/>
<rect x="28" y="430" width="1" height="1"/>
<rect x="29" y="430" width="1" height="1"/>
<rect x="30" y="429" width="1" height="1"/>
<rect x="34" y="428" width="1" height="1"/>
<rect x="35" y="427" width="1" height="1"/>
<rect x="36" y="427" width="1" height="1"/>
<rect x="40" y="427" width="1" height="1"/>
<rect x="41" y="427" width="1" height="1"/>
<rect x="42" y="426" width="1" height="1"/>
<rect x="46" y="425" width="1" height="1"/>
<rect x="47" y="424" width="1" height="1"/>
<rect x="48" y="424" width="1" height="1"/>
<rect x="52" y="423" width="1" height="1"/>
<rect x="53" y="423" width="1" height="1"/>
<rect x="54" y="422" width="1" height="1"/>
<rect x="58" y="421" width="1" height="1"/>
<rect x="59" y="421" width="1" height="1"/>
<rect x="60" y="421" width="1" height="1"/>
<rect x="64" y="422" width="1" height="1"/>
<rect x="65" y="422" width="1" height="1"/>
<rect x="66" y="422" width="1" height="1"/>
<rect x="70" y="421" width="1" height="1"/>
<rect x="71" y="421" width="1" height="1"/>
<rect x="72" y="421" width="1" height="1"/>
<rect x="76" y="421" width="1" height="1"/>
<rect x="77" y="421" width="1" height="1"/>
<rect x="78" y="421" width="1" height="1"/>
<rect x="82" y="421" width="1" height="1"/>
<rect x="83" y="421" width="1" height="1"/>
<rect x="84" y="421" width="1" height="1"/>
<rect x="88" y="421" width="1" height="1"/>
<rect x="89" y="421" width="1" height="1"/>
<rect x="90" y="421" width="1" height="1"/>
<rect x="94" y="422" width="1" height="1"/>
<rect x="95" y="422" width="1" height="1"/>
<rect x="96" y="422" width="1" height="1"/>
<rect x="100" y="422" width="1" height="1"/>
<rect x="101" y="422" width="1" height="1"/>
<rect x="102" y="422" width="1" height="1"/>
<rect x="106" y="423" width="1" height="1"/>
<rect x="107" y="423" width="1" height="1"/>
<rect x="108" y="423" width="1" height="1"/>
<rect x="112" y="423" width="1" height="1"/>
<rect x="113" y="423" width="1" height="1"/>
<rect x="114" y="423" width="1" height="1"/>
<rect x="118" y="424" width="1" height="1"/>
<rect x="119" y="424" width="1" height="1"/>
<rect x="120" y="424" width="1" height="1"/>
<rect x="124" y="426" width="1" height="1"/>
<rect x="125" y="427" width="1" height="1"/>
<rect x="126" y="427" width="1" height="1"/>
<rect x="130" y="429" width="1" height="1"/>
<rect x="131" y="430" width="1" height="1"/>
<rect x="132" y="430" width="1" height="1"/>
<rect x="136" y="432" width="1" height="1"/>
<rect x="137" y="433" width="1" height="1"/>
<rect x="138" y="433" width="1" height="1"/>
<rect x="142" y="436" width="1" height="1"/>
<rect x="143" y="436" width="1" height="1"/>
<rect x="144" y="437" width="1" height="1"/>
<rect x="148" y="440" width="1" height="1"/>
<rect x="149" y="441" width="1" height="1"/>
<rect x="150" y="442" width="1" height="1"/>
<rect x="154" y="444" width="1" height="1"/>
<rect x="155" y="445" width="1" height="1"/>
<rect x="156" y="445" width="1" height="1"/>
<rect x="160" y="447" width="1" height="1"/>
<rect x="161" y="448" width="1" height="1"/>
<rect x="162" y="448" width="1" height="1"/>
<rect x="166" y="450" width="1" height="1"/>
<rect x="167" y="450" width="1" height="1"/>
<rect x="168" y="450" width="1" height="1"/>
<rect x="172" y="451" width="1" height="1"/>
<rect x="173" y="451" width="1" height="1"/>
<rect x="174" y="451" width="1" height="1"/>
<rect x="178" y="451" width="1" height="1"/>
<rect x="179" y="451" width="1" height="1"/>
<rect x="180" y="451" width="1" height="1"/>
<rect x="184" y="450" width="1" height="1"/>
<rect x="185" y="450" width="1" height="1"/>
<rect x="186" y="449" width="1" height="1"/>
<rect x="190" y="448" width="1" height="1"/>
<rect x="191" y="447" width="1" height="1"/>
<rect x="192" y="447" width="1" height="1"/>
<rect x="196" y="444" width="1" height="1"/>
<rect x="197" y="443" width="1" height="1"/>
<rect x="198" y="442" width="1" height="1"/>
<rect x="202" y="439" width="1" height="1"/>
<rect x="202" y="438" width="1" height="1"/>
<rect x="203" y="437" width="1" height="1"/>
<rect x="207" y="434" width="1" height="1"/>
<rect x="208" y="433" width="1" height="1"/>
<rect x="209" y="432" width="1" height="1"/>
<rect x="213" y="428" width="1" height="1"/>
<rect x="214" y="427" width="1" height="1"/>
<rect x="215" y="426" width="1" height="1"/>
<rect x="219" y="423" width="1" height="1"/>
<rect x="220" y="422" width="1" height="1"/>
<rect x="221" y="421" width="1" height="1"/>
<rect x="225" y="418" width="1" height="1"/>
<rect x="226" y="417" width="1" height="1"/>
<rect x="227" y="417" width="1" height="1"/>
<rect x="231" y="413" width="1" height="1"/>
<rect x="232" y="412" width="1" height="1"/>
<rect x="233" y="411" width="1" height="1"/>
<rect x="237" y="409" width="1" height="1"/>
<rect x="238" y="409" width="1" height="1"/>
<rect x="239" y="408" width="1" height="1"/>
<rect x="243" y="407" width="1" height="1"/>
<rect x="244" y="407" width="1" height="1"/>
<rect x="245" y="407" width="1" height="1"/>
<rect x="249" y="407" width="1" height="1"/>
<rect x="250" y="407" width="1" height="1"/>
<rect x="251" y="407" width="1" height="1"/>
<rect x="255" y="407" width="1" height="1"/>
<rect x="256" y="407" width="1" height="1"/>
<rect x="257" y="407" width="1" height="1"/>
<rect x="261" y="409" width="1" height="1"/>
<rect x="262" y="409" width="1" height="1"/>
<rect x="263" y="410" width="1" height="1"/>
<rect x="267" y="411" width="1" height="1"/>
<rect x="268" y="411" width="1" height="1"/>
<rect x="269" y="411" width="1" height="1"/>
<rect x="273" y="413" width="1" height="1"/>
<rect x="274" y="413" width="1" height="1"/>
<rect x="275" y="414" width="1" height="1"/>
<rect x="279" y="416" width="1" height="1"/>
<rect x="280" y="416" width="1" height="1"/>
<rect x="281" y="417" width="1" height="1"/>
<rect x="285" y="418" width="1" height="1"/>
<rect x="286" y="419" width="1" height="1"/>
<rect x="287" y="419" width="1" height="1"/>
<rect x="291" y="421" width="1" height="1"/>
<rect x="292" y="421" width="1" height="1"/>
<rect x="293" y="422" width="1" height="1"/>
<rect x="297" y="423" width="1" height="1"/>
<rect x="298" y="424" width="1" height="1"/>
<rect x="299" y="424" width="1" height="1"/>
<rect x="303" y="426" width="1" height="1"/>
<rect x="304" y="426" width="1" height="1"/>
<rect x="305" y="426" width="1" height="1"/>
<rect x="309" y="427" width="1" height="1"/>
<rect x="310" y="428" width="1" height="1"/>
<rect x="311" y="428" width="1" height="1"/>
<rect x="315" y="429" width="1" height="1"/>
<rect x="316" y="429" width="1" height="1"/>
<rect x="317" y="429" width="1" height="1"/>
<rect x="321" y="429" width="1" height="1"/>
<rect x="322" y="430" width="1" height="1"/>
<rect x="323" y="430" width="1" height="1"/>
<rect x="327" y="430" width="1" height="1"/>
<rect x="328" y="430" width="1" height="1"/>
<rect x="329" y="430" width="1" height="1"/>
<rect x="333" y="431" width="1" height="1"/>
<rect x="334" y="431" width="1" height="1"/>
<rect x="335" y="431" width="1" height="1"/>
<rect x="339" y="431" width="1" height="1"/>
<rect x="340" y="431" width="1" height="1"/>
<rect x="341" y="431" width="1" height="1"/>
<rect x="345" y="432" width="1" height="1"/>
<rect x="346" y="433" width="1" height="1"/>
<rect x="347" y="433" width="1" height="1"/>
<rect x="351" y="434" width="1" height="1"/>
<rect x="352" y="434" width="1" height="1"/>
<rect x="353" y="435" width="1" height="1"/>
<rect x="357" y="436" width="1" height="1"/>
<rect x="358" y="437" width="1" height="1"/>
<rect x="359" y="437" width="1" height="1"/>
<rect x="363" y="438" width="1" height="1"/>
<rect x="364" y="438" width="1" height="1"/>
<rect x="365" y="438" width="1" height="1"/>
<rect x="369" y="439" width="1" height="1"/>
<rect x="370" y="439" width="1" height="1"/>
<rect x="371" y="439" width="1" height="1"/>
<rect x="375" y="439" width="1" height="1"/>
<rect x="376" y="439" width="1" height="1"/>
<rect x="377" y="439" width="1" height="1"/>
<rect x="381" y="437" width="1" height="1"/>
<rect x="382" y="437" width="1" height="1"/>
<rect x="383" y="436" width="1" height="1"/>
<rect x="387" y="434" width="1" height="1"/>
<rect x="388" y="434" width="1" height="1"/>
<rect x="389" y="433" width="1" height="1"/>
<rect x="393" y="430" width="1" height="1"/>
<rect x="394" y="430" width="1" height="1"/>
<rect x="395" y="429" width="1" height="1"/>
<rect x="399" y="427" width="1" height="1"/>
<rect x="400" y="426" width="1" height="1"/>
<rect x="401" y="425" width="1" height="1"/>
<rect x="405" y="423" width="1" height="1"/>
<rect x="406" y="423" width="1" height="1"/>
<rect x="407" y="422" width="1" height="1"/>
<rect x="411" y="421" width="1" height="1"/>
<rect x="412" y="421" width="1" height="1"/>
<rect x="413" y="421" width="1" height="1"/>
<rect x="417" y="421" width="1" height="1"/>
<rect x="418" y="421" width="1" height="1"/>
<rect x="419" y="421" width="1" height="1"/>
<rect x="423" y="422" width="1" height="1"/>
<rect x="424" y="422" width="1" height="1"/>
<rect x="425" y="423" width="1" height="1"/>
<rect x="429" y="424" width="1" height="1"/>
<rect x="430" y="425" width="1" height="1"/>
<rect x="431" y="425" width="1" height="1"/>
<rect x="435" y="426" width="1" height="1"/>
<rect x="436" y="426" width="1" height="1"/>
<rect x="437" y="426" width="1" height="1"/>
<rect x="441" y="427" width="1" height="1"/>
<rect x="442" y="427" width="1" height="1"/>
<rect x="443" y="427" width="1" height="1"/>
<rect x="447" y="427" width="1" height="1"/>
<rect x="448" y="427" width="1" height="1"/>
<rect x="449" y="427" width="1" height="1"/>
<rect x="453" y="428" width="1" height="1"/>
<rect x="454" y="427" width="1" height="1"/>
<rect x="455" y="427" width="1" height="1"/>
<rect x="459" y="427" width="1" height="1"/>
<rect x="460" y="427" width="1" height="1"/>
<rect x="461" y="427" width="1" height="1"/>
<rect x="465" y="426" width="1" height="1"/>
<rect x="466" y="425" width="1" height="1"/>
<rect x="467" y="425" width="1" height="1"/>
<rect x="471" y="425" width="1" height="1"/>
<rect x="472" y="425" width="1" height="1"/>
<rect x="473" y="425" width="1" height="1"/>
<rect x="477" y="424" width="1" height="1"/>
<rect x="478" y="423" width="1" height="1"/>
<rect x="479" y="423" width="1" height="1"/>
<rect x="483" y="421" width="1" height="1"/>
<rect x="484" y="421" width="1" height="1"/>
<rect x="485" y="420" width="1" height="1"/>
<rect x="489" y="417" width="1" height="1"/>
<rect x="490" y="416" width="1" height="1"/>
<rect x="491" y="416" width="1" height="1"/>
<rect x="495" y="412" width="1" height="1"/>
<rect x="496" y="411" width="1" height="1"/>
<rect x="497" y="410" width="1" height="1"/>
<rect x="500" y="406" width="1" height="1"/>
<rect x="501" y="405" width="1" height="1"/>
<rect x="502" y="404" width="1" height="1"/>
<rect x="506" y="400" width="1" height="1"/>
<rect x="506" y="399" width="1" height="1"/>
<rect x="507" y="398" width="1" height="1"/>
<rect x="510" y="394" width="1" height="1"/>
<rect x="511" y="393" width="1" height="1"/>
<rect x="512" y="392" width="1" height="1"/>
<rect x="516" y="389" width="1" height="1"/>
<rect x="517" y="388" width="1" height="1"/>
<rect x="518" y="387" width="1" height="1"/>
<rect x="522" y="385" width="1" height="1"/>
<rect x="523" y="385" width="1" height="1"/>
<rect x="524" y="385" width="1" height="1"/>
<rect x="528" y="384" width="1" height="1"/>
<rect x="529" y="384" width="1" height="1"/>
<rect x="530" y="383" width="1" height="1"/>
<rect x="534" y="383" width="1" height="1"/>
<rect x="535" y="383" width="1" height="1"/>
<rect x="536" y="383" width="1" height="1"/>
<rect x="540" y="384" width="1" height="1"/>
<rect x="541" y="384" width="1" height="1"/>
<rect x="542" y="385" width="1" height="1"/>
<rect x="546" y="386" width="1" height="1"/>
<rect x="547" y="386" width="1" height="1"/>
<rect x="548" y="386" width="1" height="1"/>
<rect x="552" y="386" width="1" height="1"/>
<rect x="553" y="386" width="1" height="1"/>
<rect x="554" y="386" width="1" height="1"/>
<rect x="558" y="386" width="1" height="1"/>
<rect x="559" y="386" width="1" height="1"/>
<rect x="560" y="386" width="1" height="1"/>
<rect x="564" y="386" width="1" height="1"/>
<rect x="565" y="386" width="1" height="1"/>
<rect x="566" y="386" width="1" height="1"/>
<rect x="570" y="386" width="1" height="1"/>
<rect x="571" y="386" width="1" height="1"/>
<rect x="572" y="386" width="1" height="1"/>
<rect x="576" y="386" width="1" height="1"/>
<rect x="577" y="386" width="1" height="1"/>
<rect x="578" y="385" width="1" height="1"/>
<rect x="582" y="385" width="1" height="1"/>
<rect x="583" y="385" width="1" height="1"/>
<rect x="584" y="385" width="1" height="1"/>
<rect x="588" y="386" width="1" height="1"/>
<rect x="589" y="386" width="1" height="1"/>
<rect x="590" y="386" width="1" height="1"/>
<rect x="594" y="386" width="1" height="1"/>
<rect x="595" y="386" width="1" height="1"/>
<rect x="596" y="386" width="1" height="1"/>
<rect x="600" y="387" width="1" height="1"/>
<rect x="601" y="387" width="1" height="1"/>
<rect x="602" y="388" width="1" height="1"/>
<rect x="606" y="388" width="1" height="1"/>
<rect x="607" y="388" width="1" height="1"/>
<rect x="608" y="388" width="1" height="1"/>
<rect x="612" y="389" width="1" height="1"/>
<rect x="613" y="389" width="1" height="1"/>
<rect x="614" y="389" width="1" height="1"/>
<rect x="618" y="390" width="1" height="1"/>
<rect x="619" y="390" width="1" height="1"/>
<rect x="620" y="390" width="1" height="1"/>
<rect x="624" y="390" width="1" height="1"/>
<rect x="625" y="390" width="1" height="1"/>
<rect x="626" y="390" width="1" height="1"/>
<rect x="630" y="390" width="1" height="1"/>
<rect x="631" y="390" width="1" height="1"/>
<rect x="632" y="390" width="1" height="1"/>
<rect x="636" y="390" width="1" height="1"/>
<rect x="637" y="390" width="1" height="1"/>
<rect x="638" y="390" width="1" height="1"/>
<rect x="642" y="390" width="1" height="1"/>
<rect x="643" y="390" width="1" height="1"/>
<rect x="644" y="390" width="1" height="1"/>
<rect x="648" y="389" width="1" height="1"/>
<rect x="649" y="388" width="1" height="1"/>
<rect x="650" y="388" width="1" height="1"/>
<rect x="654" y="386" width="1" height="1"/>
<rect x="655" y="386" width="1" height="1"/>
<rect x="656" y="386" width="1" height="1"/>
<rect x="660" y="384" width="1" height="1"/>
<rect x="661" y="383" width="1" height="1"/>
<rect x="662" y="383" width="1" height="1"/>
<rect x="666" y="381" width="1" height="1"/>
<rect x="667" y="380" width="1" height="1"/>
<rect x="668" y="380" width="1" height="1"/>
<rect x="672" y="379" width="1" height="1"/>
<rect x="673" y="378" width="1" height="1"/>
<rect x="674" y="378" width="1" height="1"/>
<rect x="678" y="376" width="1" height="1"/>
<rect x="679" y="375" width="1" height="1"/>
<rect x="680" y="375" width="1" height="1"/>
</g>
<g shape-rendering="crispEdges">
<rect x="3.5" y="3.5" width="765" height="360" fill="none" stroke="#fff" stroke-width="1"/>
<rect x="3.5" y="365.5" width="765" height="93" fill="none" stroke="#fff" stroke-width="1"/>
<path d="M3.5 462V460.5H768.5V462" fill="none" stroke="#fff" stroke-width="1"/>
</g>
<g shape-rendering="crispEdges" fill="#fff">
<rect x="769" y="30" width="2" height="1"/>
<rect x="769" y="63" width="2" height="1"/>
<rect x="769" y="96" width="2" height="1"/>
<rect x="769" y="129" width="2" height="1"/>
<rect x="769" y="162" width="2" height="1"/>
<rect x="769" y="195" width="2" height="1"/>
<rect x="769" y="228" width="2" height="1"/>
<rect x="769" y="261" width="2" height="1"/>
<rect x="769" y="294" width="2" height="1"/>
<rect x="769" y="327" width="2" height="1"/>
<rect x="769" y="360" width="2" height="1"/>
<rect x="769" y="367" width="1" height="1"/>
<rect x="769" y="458" width="2" height="1"/>
</g>
<g fill="#fff" font-size="10" stroke="#fff" stroke-width="0.25">
<text x="774.5" y="34" textLength="32.5" lengthAdjust="spacingAndGlyphs">1939.25</text>
<text x="774.5" y="67" textLength="32.5" lengthAdjust="spacingAndGlyphs">1903.55</text>
<text x="774.5" y="100" textLength="32.5" lengthAdjust="spacingAndGlyphs">1868.90</text>
<text x="774.5" y="133" textLength="32.5" lengthAdjust="spacingAndGlyphs">1833.20</text>
<text x="774.5" y="166" textLength="32.5" lengthAdjust="spacingAndGlyphs">1798.55</text>
<text x="774.5" y="199" textLength="32.5" lengthAdjust="spacingAndGlyphs">1763.90</text>
<text x="774.5" y="232" textLength="32.5" lengthAdjust="spacingAndGlyphs">1728.20</text>
<text x="774.5" y="265" textLength="32.5" lengthAdjust="spacingAndGlyphs">1693.55</text>
<text x="774.5" y="298" textLength="32.5" lengthAdjust="spacingAndGlyphs">1657.85</text>
<text x="774.5" y="331" textLength="32.5" lengthAdjust="spacingAndGlyphs">1623.20</text>
<text x="774.5" y="364" textLength="32.5" lengthAdjust="spacingAndGlyphs">1588.55</text>
<text x="772.4" y="376" textLength="27.4" lengthAdjust="spacingAndGlyphs">38.098</text>
<text x="772.3" y="455" textLength="30.3" lengthAdjust="spacingAndGlyphs">-38.333</text>
</g>
<rect x="770" y="49" width="41" height="11" fill="#fff" shape-rendering="crispEdges"/>
<rect x="768" y="53" width="1" height="2" fill="#000" shape-rendering="crispEdges"/><rect x="769" y="54" width="1" height="1" fill="#fff" shape-rendering="crispEdges"/>
<text x="774.6" y="58" font-size="10" fill="#000" stroke="#000" stroke-width="0.25" textLength="32.4" lengthAdjust="spacingAndGlyphs">1912.87</text>
<polygon points="7,10 14,10 10.5,13.6" fill="#fff"/>
<g fill="#fff" font-size="10" stroke="#fff" stroke-width="0.25">
<text x="18.9" y="15" textLength="39.9" lengthAdjust="spacingAndGlyphs">LLG,Daily</text>
<text x="65.5" y="15" textLength="32.3" lengthAdjust="spacingAndGlyphs">1904.52</text>
<text x="101.5" y="15" textLength="32.3" lengthAdjust="spacingAndGlyphs">1916.41</text>
<text x="137.4" y="15" textLength="32.3" lengthAdjust="spacingAndGlyphs">1900.92</text>
<text x="173.3" y="15" textLength="32.3" lengthAdjust="spacingAndGlyphs">1912.87</text>
<text x="8.3" y="378" textLength="66" lengthAdjust="spacingAndGlyphs">MACD(12,26,9)</text>
<text x="77" y="378" textLength="27.9" lengthAdjust="spacingAndGlyphs">34.209</text>
<text x="108.4" y="378" textLength="27.5" lengthAdjust="spacingAndGlyphs">30.901</text>
</g>
<defs>
<radialGradient id="lg" cx="0.68" cy="0.3" r="0.85">
<stop offset="0" stop-color="#EA521C"/>
<stop offset="0.55" stop-color="#DC3C1C"/>
<stop offset="1" stop-color="#C42C1E"/>
</radialGradient>
<linearGradient id="yg" x1="0" y1="0" x2="0" y2="1">
<stop offset="0" stop-color="#FDEBA6"/>
<stop offset="0.55" stop-color="#F8CC62"/>
<stop offset="1" stop-color="#F2A633"/>
</linearGradient>
<linearGradient id="sg" x1="0" y1="0" x2="1" y2="1">
<stop offset="0" stop-color="#F0F0F0"/>
<stop offset="1" stop-color="#707070"/>
</linearGradient>
</defs>
<circle cx="680.1" cy="412.5" r="22.6" fill="url(#lg)"/>
<path d="M669 419 C 665.5 416, 666 410, 670.5 407.5 C 670 402.5, 674.5 398.5, 679 399.3 C 682.5 398, 686.5 400.5, 687.5 404 C 691.5 404.8, 693.5 409, 692.5 413.5 C 692 420.5, 686.5 425.5, 679.5 428.3 C 676 429.8, 671.5 431, 668.2 430.8 C 666.8 430.4, 667 428.8, 668.8 428.2 C 674.5 426.2, 680 423.5, 683 419.8 C 679 421.5, 673 421.5, 669 419 Z" fill="url(#yg)"/>
<path d="M676.3 412.3 C 677.8 409.2, 682.2 408.8, 683.8 411.8 C 685.2 414.8, 684.5 418.2, 682.3 420.6" fill="none" stroke="#D6361C" stroke-width="2.5" stroke-linecap="round"/>
<g fill="#A6A6A6" font-family="Liberation Serif, Noto Serif CJK SC, serif" font-weight="900" font-size="31">
<text x="706.5" y="420.5">中</text><text x="737" y="420.5">金</text><text x="771.5" y="420.5">网</text>
</g>
<text x="709" y="434" font-size="9" fill="#8C8C8C" textLength="89" lengthAdjust="spacingAndGlyphs">CNGOLD.COM.CN</text>
<g fill="#9A9A9A" font-family="Liberation Sans, Noto Sans CJK SC, sans-serif" font-size="11">
<text x="661" y="448">中</text><text x="681" y="448">文</text><text x="701" y="448">财</text><text x="722" y="448">经</text><text x="743" y="448" fill="#D8D8D8">新</text><text x="762" y="448">媒</text><text x="782" y="448">体</text>
</g>
<g>
<polygon points="727.3,432.5 739.8,440.5 727.5,452.8 715.2,440.5" fill="#2B2414"/>
<path d="M716.2 440.3 L727.3 433.4 L738.8 440.3" fill="none" stroke="url(#sg)" stroke-width="2.4" stroke-linejoin="miter"/>
<path d="M716.2 440.7 L727.5 451.6" fill="none" stroke="#E6C41E" stroke-width="2.4"/>
<path d="M738.8 440.7 L727.5 451.6" fill="none" stroke="#8E6C1E" stroke-width="2.4"/>
<path d="M723.5 439.5 L726.5 442.5 L731 437.5" fill="none" stroke="#7CC82A" stroke-width="1.6"/>
<path d="M721.5 443.5 H733.5 M722.5 446.5 H732.5" stroke="#B8B8B8" stroke-width="1"/>
</g>
<text x="746.8" y="438.6" font-size="8.2" font-weight="bold" fill="#F4F4F4" textLength="57" lengthAdjust="spacingAndGlyphs">SING SOUND</text>
<g fill="#F0F0F0" font-family="Liberation Sans, Noto Sans CJK SC, sans-serif" font-weight="bold" font-size="9">
<text x="778.5" y="448.3">集</text><text x="795.5" y="448.3">团</text>
</g>
<text x="772.5" y="416" font-size="10" fill="#A8C4F0" stroke="#A8C4F0" stroke-width="0.2" textLength="17" lengthAdjust="spacingAndGlyphs">0.00</text>

</svg></body></html>
